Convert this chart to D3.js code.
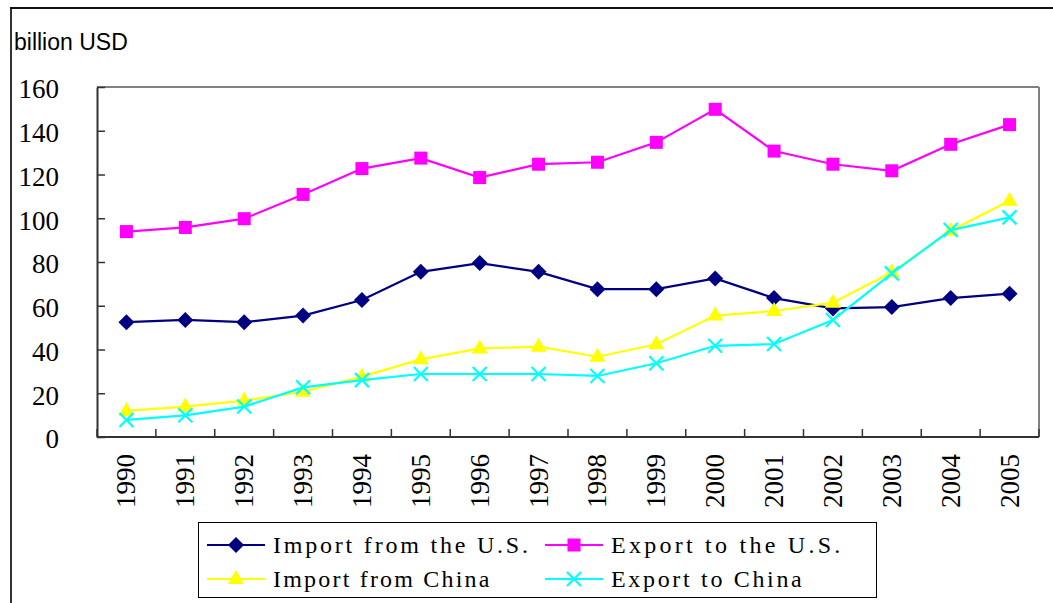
<!DOCTYPE html>
<html>
<head>
<meta charset="utf-8">
<script src="https://cdn.jsdelivr.net/npm/d3@7/dist/d3.min.js"></script>
<style>
  html, body { margin: 0; padding: 0; background: #fff; }
  svg { display: block; }
</style>
</head>
<body>
<svg id="chart" width="1053" height="603"></svg>
<script>
const years = ["1990","1991","1992","1993","1994","1995","1996","1997","1998","1999","2000","2001","2002","2003","2004","2005"];
const importFromUS = [52.5, 53.5, 52.5, 55.5, 62.6, 75.5, 79.5, 75.5, 67.6, 67.6, 72.5, 63.5, 58.8, 59.4, 63.5, 65.5];
const exportToUS   = [93.9, 95.8, 99.8, 110.9, 122.7, 127.5, 118.6, 124.7, 125.6, 134.7, 149.8, 130.7, 124.7, 121.7, 133.8, 142.8];
const importFromChina = [11.9, 13.9, 16.6, 20.7, 27.6, 35.5, 40.5, 41.3, 36.7, 42.4, 55.5, 57.6, 61.4, 75.3, 94.3, 108.0];
const exportToChina   = [7.8, 9.9, 13.9, 22.7, 26.0, 28.8, 28.8, 28.8, 27.9, 33.7, 41.7, 42.5, 53.5, 74.8, 94.6, 100.4];
const yTicks = [0, 20, 40, 60, 80, 100, 120, 140, 160];
const seriesNames = ["Import from the U.S.", "Export to the U.S.", "Import from China", "Export to China"];

const series = [
  { name: seriesNames[0], values: importFromUS, color: "#000080", marker: "diamond" },
  { name: seriesNames[1], values: exportToUS, color: "#ff00ff", marker: "square" },
  { name: seriesNames[2], values: importFromChina, color: "#ffff00", marker: "triangle" },
  { name: seriesNames[3], values: exportToChina, color: "#00ffff", marker: "x" }
];

const svg = d3.select("#chart");
const L = 97, R = 1039, T = 87, B = 437;

// outer frame (left and top only visible)
svg.append("line").attr("x1", 11).attr("x2", 11).attr("y1", 8).attr("y2", 603).attr("stroke", "#333").attr("stroke-width", 2);
svg.append("line").attr("x1", 10).attr("x2", 1053).attr("y1", 8).attr("y2", 8).attr("stroke", "#111").attr("stroke-width", 2);

svg.append("text").attr("x", 14).attr("y", 50)
  .style("font-family", "'Liberation Sans', Arial, sans-serif").style("font-size", "23px")
  .text("billion USD");

const x = d3.scaleBand().domain(years).range([L, R]).padding(0);
const y = d3.scaleLinear().domain([0, 160]).range([B, T]);

// plot border top/right
svg.append("line").attr("x1", L).attr("x2", R).attr("y1", T).attr("y2", T).attr("stroke", "#808080").attr("stroke-width", 2);
svg.append("line").attr("x1", R).attr("x2", R).attr("y1", T).attr("y2", B).attr("stroke", "#808080").attr("stroke-width", 2);

// y axis
const yAxis = svg.append("g").attr("transform", `translate(${L},0)`)
  .call(d3.axisLeft(y).tickValues(yTicks).tickSizeInner(-8).tickSizeOuter(0).tickPadding(38));
yAxis.select(".domain").attr("stroke", "#333").attr("stroke-width", 2);
yAxis.selectAll(".tick line").attr("stroke", "#333").attr("stroke-width", 1.5);
yAxis.selectAll(".tick text")
  .style("font-family", "'Liberation Serif', 'Times New Roman', serif").style("font-size", "27px")
  .attr("fill", "#000").attr("dy", "0.4em");

// x axis ticks at band boundaries
const xAxisG = svg.append("g").attr("transform", `translate(0,${B})`);
xAxisG.append("line").attr("x1", L).attr("x2", R).attr("stroke", "#333").attr("stroke-width", 2);
const bounds = years.map(d => x(d)).concat([x(years[years.length - 1]) + x.bandwidth()]);
xAxisG.selectAll("line.tk").data(bounds).enter().append("line").attr("class", "tk")
  .attr("x1", d => d).attr("x2", d => d).attr("y1", 0).attr("y2", -8)
  .attr("stroke", "#333").attr("stroke-width", 1.5);
xAxisG.selectAll("text.yl").data(years).enter().append("text").attr("class", "yl")
  .attr("transform", d => `translate(${x(d) + x.bandwidth() / 2 + 9},${17}) rotate(-90)`)
  .attr("text-anchor", "end")
  .style("font-family", "'Liberation Serif', 'Times New Roman', serif").style("font-size", "27px")
  .text(d => d);

const cx = d => x(d) + x.bandwidth() / 2;

function drawMarker(g, type, color, px, py) {
  if (type === "diamond") {
    g.append("path").attr("d", `M${px},${py - 8}L${px + 8},${py}L${px},${py + 8}L${px - 8},${py}Z`).attr("fill", color);
  } else if (type === "square") {
    g.append("rect").attr("x", px - 6.5).attr("y", py - 6.5).attr("width", 13).attr("height", 13).attr("fill", color);
  } else if (type === "triangle") {
    g.append("path").attr("d", `M${px},${py - 9}L${px + 8},${py + 5}L${px - 8},${py + 5}Z`).attr("fill", color);
  } else if (type === "x") {
    g.append("path").attr("d", `M${px - 7},${py - 7}L${px + 7},${py + 7}M${px + 7},${py - 7}L${px - 7},${py + 7}`)
      .attr("stroke", color).attr("stroke-width", 2.2).attr("fill", "none");
  }
}

const line = d3.line().x((d, i) => cx(years[i])).y(d => y(d));
series.forEach(s => {
  const g = svg.append("g");
  g.append("path").datum(s.values).attr("d", line).attr("fill", "none").attr("stroke", s.color).attr("stroke-width", 2.2);
  s.values.forEach((v, i) => drawMarker(g, s.marker, s.color, cx(years[i]), y(v)));
});

// legend
const lg = svg.append("g");
lg.append("rect").attr("x", 198.5).attr("y", 522.5).attr("width", 678).attr("height", 75)
  .attr("fill", "#fff").attr("stroke", "#000").attr("stroke-width", 1);
const pos = [[207, 545], [545, 545], [207, 579], [545, 579]];
series.forEach((s, i) => {
  const [lx, ly] = pos[i];
  lg.append("line").attr("x1", lx).attr("x2", lx + 58).attr("y1", ly).attr("y2", ly).attr("stroke", s.color).attr("stroke-width", 2.2);
  drawMarker(lg, s.marker, s.color, lx + 29, ly);
  lg.append("text").attr("x", lx + 66).attr("y", ly + 8)
    .style("font-family", "'Liberation Serif', 'Times New Roman', serif").style("font-size", "24px")
    .attr("textLength", s.name.length * 12.85 - 2).attr("lengthAdjust", "spacing")
    .text(s.name);
});
</script>
</body>
</html>
